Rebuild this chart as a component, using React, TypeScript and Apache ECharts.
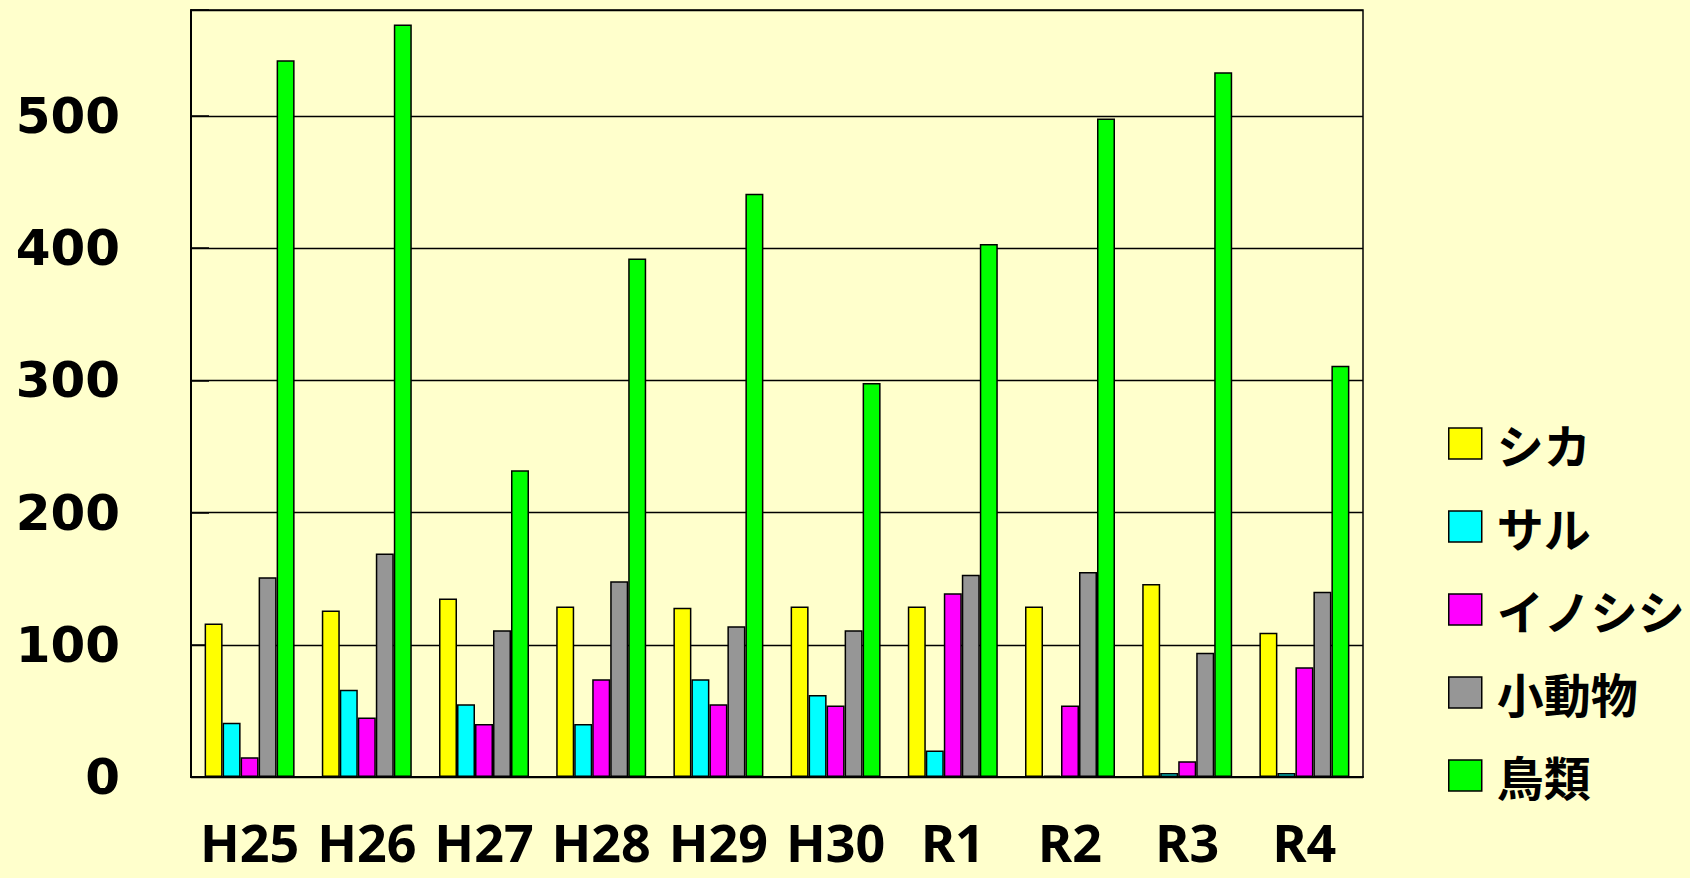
import React, { useEffect, useRef } from "react";
import * as echarts from "echarts";

const categories = ["H25", "H26", "H27", "H28", "H29", "H30", "R1", "R2", "R3", "R4"];
const seriesNames = ["シカ", "サル", "イノシシ", "小動物", "鳥類"];
const shika = [116, 126, 135, 129, 128, 129, 129, 129, 146, 109];
const saru = [41, 66, 55, 40, 74, 62, 20, 1, 3, 3];
const inoshishi = [15, 45, 40, 74, 55, 54, 139, 54, 12, 83];
const shoudoubutsu = [151, 169, 111, 148, 114, 111, 153, 155, 94, 140];
const chourui = [542, 569, 232, 392, 441, 298, 403, 498, 533, 311];
const colors = ["#FFFF00", "#00FFFF", "#FF00FF", "#969696", "#00FF00"];

const CJK = "'Noto Sans CJK JP', 'Noto Sans', sans-serif";
const XFONT = "'Noto Sans', 'Noto Sans CJK JP', sans-serif";
const YFONT = "'DejaVu Sans', Verdana, sans-serif";

export default function App() {
  const ref = useRef<HTMLDivElement>(null);
  useEffect(() => {
    if (!ref.current) return;
    const chart = echarts.init(ref.current, undefined, { renderer: "svg" });
    const values = [shika, saru, inoshishi, shoudoubutsu, chourui];
    chart.setOption({
      animation: false,
      backgroundColor: "#FFFFCC",
      grid: {
        left: 191,
        top: 10,
        width: 1172,
        height: 767,
        show: true,
        borderColor: "#000",
        borderWidth: 1.5,
        backgroundColor: "transparent",
      },
      legend: {
        orient: "vertical",
        left: 1448,
        top: 420,
        padding: 0,
        itemWidth: 33,
        itemHeight: 31,
        itemGap: 36,
        icon: "rect",
        itemStyle: { borderColor: "#000", borderWidth: 1.5 },
        textStyle: {
          fontFamily: CJK,
          fontWeight: "bold",
          fontSize: 47,
          lineHeight: 46,
          color: "#000",
          padding: [0, 0, 0, 10],
        },
        data: seriesNames,
      },
      xAxis: {
        type: "category",
        data: categories,
        boundaryGap: true,
        axisLine: { lineStyle: { color: "#000", width: 2 } },
        axisTick: { inside: true, length: 18, lineStyle: { color: "#000", width: 1.5 } },
        axisLabel: {
          fontFamily: XFONT,
          fontWeight: "bold",
          fontSize: 52,
          lineHeight: 40,
          color: "#000",
          margin: 44,
          interval: 0,
        },
      },
      yAxis: {
        type: "value",
        min: 0,
        max: 580,
        interval: 100,
        axisLine: { show: true, lineStyle: { color: "#000", width: 2 } },
        axisTick: { show: true, inside: true, length: 18, lineStyle: { color: "#000", width: 1.5 } },
        splitLine: { lineStyle: { color: "#000", width: 1.3 } },
        axisLabel: {
          fontFamily: YFONT,
          fontWeight: "bold",
          fontSize: 50,
          color: "#000",
          margin: 71,
          padding: [0, 0, 18, 0],
          formatter: (v: number) => (v % 100 === 0 ? String(v) : ""),
        },
      },
      series: seriesNames.map((name, i) => ({
        name,
        type: "bar",
        data: values[i],
        barWidth: 18,
        barGap: "0%",
        itemStyle: { color: colors[i], borderColor: "#000", borderWidth: 1.5 },
      })),
    });
    return () => chart.dispose();
  }, []);
  return (
    <div
      ref={ref}
      style={{ position: "fixed", left: 0, top: 0, width: 1690, height: 878 }}
    />
  );
}
